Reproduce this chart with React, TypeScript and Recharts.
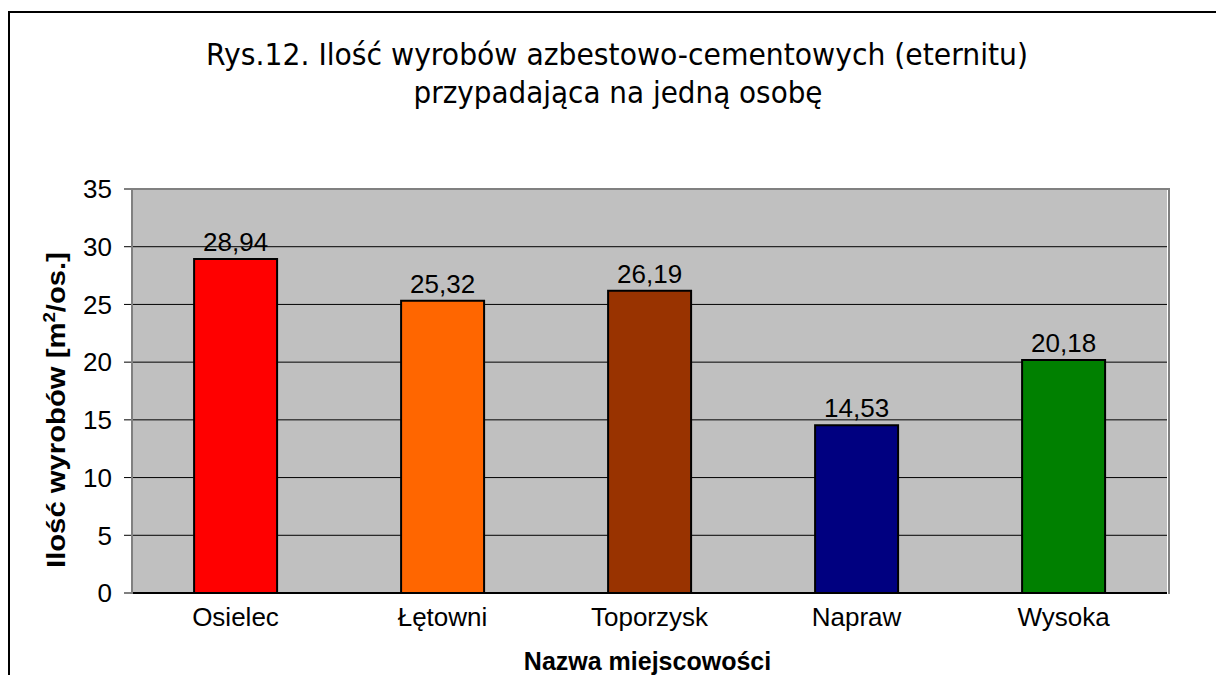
import React from "react";
import { BarChart, Bar, XAxis, YAxis, CartesianGrid, Cell, LabelList, Label } from "recharts";

const places = ["Osielec", "Łętowni", "Toporzysk", "Napraw", "Wysoka"];
const perPerson = [28.94, 25.32, 26.19, 14.53, 20.18];
const barColors = ["#FF0000", "#FF6600", "#993300", "#000080", "#008000"];
const yTicks = [0, 5, 10, 15, 20, 25, 30, 35];

const titleLines = [
  "Rys.12. Ilość wyrobów azbestowo-cementowych (eternitu)",
  "przypadająca na jedną osobę",
];

const data = places.map((name, i) => ({ name, value: perPerson[i] }));

const W = 1216;
const H = 675;
const PLOT = { left: 132, top: 189, right: 1167, bottom: 593 };
const FONT = "'Liberation Sans', Arial, sans-serif";

function YTitle(props: any) {
  const vb = props.viewBox || { x: 0, y: 0, width: 0, height: 0 };
  const bx = 65;
  const cy = vb.y + vb.height / 2 + 19;
  return (
    <text
      x={0}
      y={0}
      transform={`translate(${bx}, ${cy}) rotate(-90)`}
      textAnchor="middle"
      fontFamily={FONT}
      fontWeight="bold"
      fontSize={25}
      fill="#000"
      textLength={316}
      lengthAdjust="spacingAndGlyphs"
    >
      Ilość wyrobów [m
      <tspan fontSize={16} dy={-10}>2</tspan>
      <tspan dy={10}>/os.]</tspan>
    </text>
  );
}

function XTitle(props: any) {
  const vb = props.viewBox || { x: 0, y: 0, width: 0, height: 0 };
  return (
    <text
      x={vb.x + vb.width / 2 - 2}
      y={670}
      textAnchor="middle"
      fontFamily={FONT}
      fontWeight="bold"
      fontSize={25}
      fill="#000"
    >
      Nazwa miejscowości
    </text>
  );
}

export default function App() {
  return (
    <div
      style={{
        position: "absolute",
        left: 0,
        top: 0,
        width: W,
        height: H,
        overflow: "hidden",
        background: "#fff",
      }}
    >
      <div
        style={{
          position: "absolute",
          left: 8,
          top: 11,
          width: W,
          height: H,
          borderLeft: "2px solid #000",
          borderTop: "2px solid #000",
        }}
      />
      <svg width={W} height={120} style={{ position: "absolute", left: 0, top: 0 }}>
        <text
          x={617}
          y={65}
          textAnchor="middle"
          fontFamily="'DejaVu Sans', Tahoma, sans-serif"
          fontSize={30}
          fill="#000"
          textLength={822}
          lengthAdjust="spacingAndGlyphs"
        >
          {titleLines[0]}
        </text>
        <text
          x={618}
          y={103}
          textAnchor="middle"
          fontFamily="'DejaVu Sans', Tahoma, sans-serif"
          fontSize={30}
          fill="#000"
          textLength={409}
          lengthAdjust="spacingAndGlyphs"
        >
          {titleLines[1]}
        </text>
      </svg>
      <div style={{ position: "absolute", left: 0, top: 0 }}>
        <BarChart
          width={W}
          height={H}
          data={data}
          margin={{ top: PLOT.top, right: W - PLOT.right, left: 0, bottom: 0 }}
          barCategoryGap="30%"
        >
          <CartesianGrid
            vertical={false}
            stroke="#000"
            strokeWidth={1}
            fill="#C0C0C0"
            fillOpacity={1}
          />
          <XAxis
            dataKey="name"
            height={H - PLOT.bottom}
            tickLine={false}
            axisLine={{ stroke: "#000", strokeWidth: 2 }}
            tickMargin={9}
            tick={{ fontFamily: FONT, fontSize: 26, fill: "#000" }}
            interval={0}
          >
            <Label content={<XTitle />} />
          </XAxis>
          <YAxis
            width={PLOT.left}
            domain={[0, 35]}
            ticks={yTicks}
            interval={0}
            tickSize={8}
            tickMargin={12}
            tickLine={{ stroke: "#000" }}
            axisLine={{ stroke: "#808080", strokeWidth: 2 }}
            tick={{ fontFamily: FONT, fontSize: 26, fill: "#000" }}
          >
            <Label content={<YTitle />} />
          </YAxis>
          <Bar dataKey="value" stroke="#000" strokeWidth={2} isAnimationActive={false}>
            {data.map((d, i) => (
              <Cell key={d.name} fill={barColors[i]} />
            ))}
            <LabelList
              dataKey="value"
              position="top"
              offset={8}
              formatter={(v: any) => Number(v).toFixed(2).replace(".", ",")}
              style={{ fontFamily: FONT, fontSize: 26, fill: "#000" }}
            />
          </Bar>
        </BarChart>
      </div>
      <div
        style={{
          position: "absolute",
          left: PLOT.left - 1,
          top: PLOT.top - 1,
          width: PLOT.right - PLOT.left,
          height: PLOT.bottom - PLOT.top,
          borderLeft: "2px solid #808080",
          borderTop: "2px solid #808080",
          borderRight: "2px solid #808080",
          pointerEvents: "none",
        }}
      />
    </div>
  );
}
